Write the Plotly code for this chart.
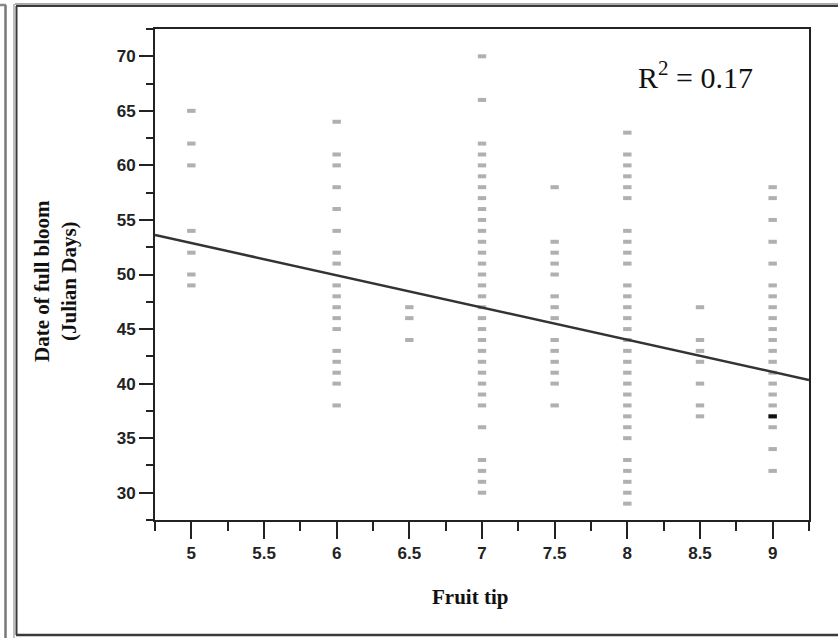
import plotly.graph_objects as go

# ---------------- data ----------------
fruit_tip_levels = [5, 6, 6.5, 7, 7.5, 8, 8.5, 9]
bloom_at_5 = [65, 62, 60, 54, 52, 50, 49]
bloom_at_6 = [64, 61, 60, 58, 56, 54, 52, 51, 49, 48, 47, 46, 45, 43, 42, 41, 40, 38]
bloom_at_6_5 = [47, 46, 44]
bloom_at_7 = [70, 66, 62, 61, 60, 59, 58, 57, 56, 55, 54, 53, 52, 51, 50, 49, 48, 47,
              46, 45, 44, 43, 42, 41, 40, 39, 38, 36, 33, 32, 31, 30]
bloom_at_7_5 = [58, 53, 52, 51, 50, 48, 47, 46, 44, 43, 42, 41, 40, 38]
bloom_at_8 = [63, 61, 60, 59, 58, 57, 54, 53, 52, 51, 49, 48, 47, 46, 45, 44, 43, 42,
              41, 40, 39, 38, 37, 36, 35, 33, 32, 31, 30, 29]
bloom_at_8_5 = [47, 44, 43, 42, 40, 38, 37]
bloom_at_9 = [58, 57, 55, 53, 51, 49, 48, 47, 46, 45, 44, 43, 42, 41, 40, 39, 38, 37,
              36, 34, 32]
bloom_columns = [bloom_at_5, bloom_at_6, bloom_at_6_5, bloom_at_7, bloom_at_7_5,
                 bloom_at_8, bloom_at_8_5, bloom_at_9]

# overlapping (darker) observation
overlap_x = [9]
overlap_y = [37]

# fitted regression line
fit_intercept = 67.65
fit_slope = -2.953
r_squared = 0.17

x_tick_values = [5, 5.5, 6, 6.5, 7, 7.5, 8, 8.5, 9]
x_tick_labels = ["5", "5.5", "6", "6.5", "7", "7.5", "8", "8.5", "9"]
y_tick_values = [30, 35, 40, 45, 50, 55, 60, 65, 70]
y_tick_labels = ["30", "35", "40", "45", "50", "55", "60", "65", "70"]
x_range = [4.75, 9.25]
y_range = [27.5, 72.5]

x_title = "Fruit tip"
y_title = "Date of full bloom<br>(Julian Days)"

# ---------------- figure ----------------
W, H = 838, 638
L, R, T, B = 155, 809, 29, 520


def px(x):
    return (x - L) / (R - L)


def py(y):
    return (B - y) / (B - T)


xs, ys = [], []
for lvl, col in zip(fruit_tip_levels, bloom_columns):
    xs.extend([lvl] * len(col))
    ys.extend(col)

fig = go.Figure()
fig.add_trace(go.Scatter(
    x=xs, y=ys, mode="markers",
    marker=dict(symbol="line-ew", size=6, color="#b0b0b0",
                line=dict(color="#b0b0b0", width=4)),
    showlegend=False, hoverinfo="x+y"))
fig.add_trace(go.Scatter(
    x=overlap_x, y=overlap_y, mode="markers",
    marker=dict(symbol="line-ew", size=6, color="#111111",
                line=dict(color="#111111", width=4)),
    showlegend=False))

fit_x = list(x_range)
fit_y = [fit_intercept + fit_slope * v for v in fit_x]
fig.add_trace(go.Scatter(
    x=fit_x, y=fit_y, mode="lines",
    line=dict(color="#333333", width=2.5),
    showlegend=False, hoverinfo="skip"))

tick_font = dict(family="Liberation Sans, Arial, sans-serif", size=17,
                 color="#222222", weight="bold")
title_font = dict(family="Liberation Serif, Times New Roman, serif", size=21,
                  color="#111111", weight="bold")

fig.update_layout(
    width=W, height=H,
    margin=dict(l=L, r=W - R, t=T, b=H - B, pad=0),
    paper_bgcolor="white", plot_bgcolor="white",
    xaxis=dict(
        range=[x_range[0] - 0.0001, x_range[1] + 0.0001],
        tickmode="array", tickvals=x_tick_values, ticktext=x_tick_labels,
        ticks="outside", ticklen=17, tickwidth=2, tickcolor="#222222",
        showline=True, linewidth=2, linecolor="#222222", mirror=True,
        showgrid=False, zeroline=False, tickfont=tick_font,
        minor=dict(tick0=0, dtick=0.25, ticks="outside", ticklen=9,
                   tickwidth=2, tickcolor="#222222", showgrid=False),
    ),
    yaxis=dict(
        range=[y_range[0] - 0.0001, y_range[1] + 0.0001],
        tickmode="array", tickvals=y_tick_values, ticktext=y_tick_labels,
        ticks="outside", ticklen=14, tickwidth=2, tickcolor="#222222",
        showline=True, linewidth=2, linecolor="#222222", mirror=True,
        showgrid=False, zeroline=False, tickfont=tick_font,
        minor=dict(tick0=0, dtick=2.5, ticks="outside", ticklen=7,
                   tickwidth=2, tickcolor="#222222", showgrid=False),
    ),
    annotations=[
        dict(text=y_title, textangle=-90, x=px(55), y=py(281),
             xref="paper", yref="paper", xanchor="center", yanchor="middle",
             showarrow=False, font=title_font),
        dict(text=x_title, x=px(470), y=py(597),
             xref="paper", yref="paper", xanchor="center", yanchor="middle",
             showarrow=False, font=title_font),
        dict(text="R<sup>2</sup> = %.2f" % r_squared, x=px(636), y=py(75),
             xref="paper", yref="paper", xanchor="left", yanchor="middle",
             showarrow=False,
             font=dict(family="Liberation Serif, Times New Roman, serif",
                       size=30, color="#111111")),
    ],
    shapes=[
        # main panel frame (light outer edge + dark inner edge)
        dict(type="line", xref="paper", yref="paper", x0=px(15), x1=px(845),
             y0=py(4), y1=py(4), line=dict(color="#aaaaaa", width=2)),
        dict(type="line", xref="paper", yref="paper", x0=px(16), x1=px(845),
             y0=py(6), y1=py(6), line=dict(color="#3a3a3a", width=2)),
        dict(type="line", xref="paper", yref="paper", x0=px(14), x1=px(14),
             y0=py(4), y1=py(638), line=dict(color="#aaaaaa", width=1.5)),
        dict(type="line", xref="paper", yref="paper", x0=px(16.5), x1=px(16.5),
             y0=py(6), y1=py(635), line=dict(color="#3a3a3a", width=2)),
        dict(type="line", xref="paper", yref="paper", x0=px(16), x1=px(845),
             y0=py(635), y1=py(635), line=dict(color="#3a3a3a", width=2.5)),
        # edge of neighbouring panel on the far left
        dict(type="line", xref="paper", yref="paper", x0=px(5.5), x1=px(5.5),
             y0=py(5), y1=py(640), line=dict(color="#777777", width=2.5)),
        dict(type="line", xref="paper", yref="paper", x0=px(-2), x1=px(6),
             y0=py(5), y1=py(5), line=dict(color="#888888", width=2.5)),
    ],
)

fig.write_html("out.html")
